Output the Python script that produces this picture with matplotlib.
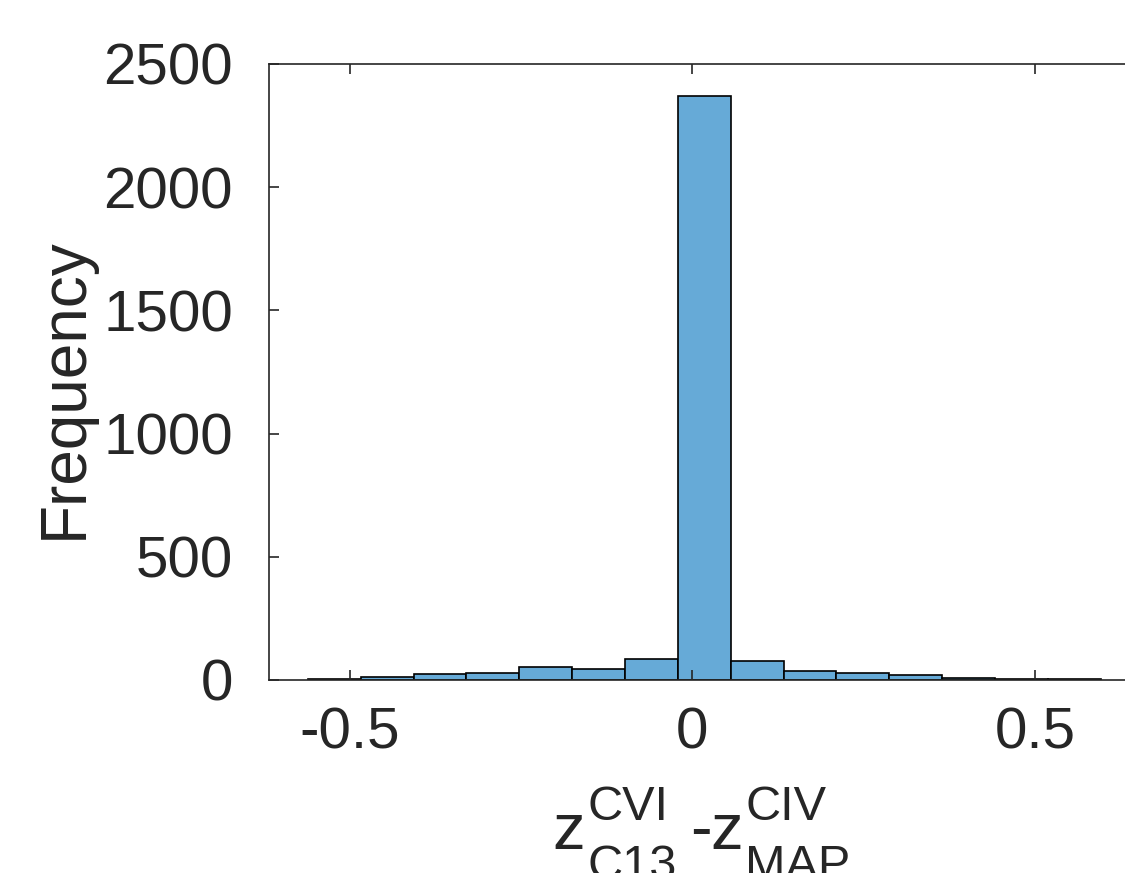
import numpy as np
import matplotlib
matplotlib.use("Agg")
import matplotlib.pyplot as plt

# ─── Dados ────────────────────────────────────────────────────────
BIN_EDGES = [-0.561, -0.484, -0.407, -0.330, -0.253, -0.176, -0.098, -0.021,
             0.056, 0.133, 0.210, 0.287, 0.364, 0.442, 0.519, 0.596]
COUNTS = [5, 11, 23, 28, 52, 43, 87, 2370, 76, 35, 27, 22, 7, 3, 3]
X_TICKS = [-0.5, 0, 0.5]
X_TICK_LABELS = ["-0.5", "0", "0.5"]
Y_TICKS = [0, 500, 1000, 1500, 2000, 2500]

# ─── Estilo ───────────────────────────────────────────────────────
AX_COLOR = "#262626"
FACE = "#66aad7"
W, H = 1125, 873

plt.rcParams["font.family"] = ["Liberation Sans", "DejaVu Sans"]

fig = plt.figure(figsize=(W / 100, H / 100), dpi=100)
ax = fig.add_axes([0.2391, 0.2211, 0.7783, 0.7056])

edges = np.array(BIN_EDGES)
ax.bar(edges[:-1], COUNTS, width=np.diff(edges), align="edge",
       color=FACE, edgecolor="black", linewidth=1.2)

ax.set_xlim(-0.618, 0.66)
ax.set_ylim(0, 2500)
ax.set_xticks(X_TICKS)
ax.set_xticklabels(X_TICK_LABELS)
ax.set_yticks(Y_TICKS)

for s in ax.spines.values():
    s.set_color(AX_COLOR)
    s.set_linewidth(1.2)

ax.tick_params(axis="x", direction="in", length=7, width=1.2, top=True,
               color=AX_COLOR, labelcolor=AX_COLOR, labelsize=42, pad=19)
ax.tick_params(axis="y", direction="in", length=7, width=1.2, right=True,
               color=AX_COLOR, labelcolor=AX_COLOR, labelsize=42, pad=26)

ax.set_ylabel("Frequency", fontsize=46, color=AX_COLOR)
ax.yaxis.set_label_coords((95 - 269) / 875.6, (680 - 388) / 616)

# rótulo x estilo TeX do MATLAB (sub/sobrescritos grandes)
def ftext(x, y, s, size):
    fig.text(x / W, (H - y) / H, s, fontsize=size, color=AX_COLOR,
             ha="left", va="baseline")

ftext(552, 849, "z", 47)
ftext(587, 820, "CVI", 35)
ftext(587, 879, "C13", 35)
ftext(690, 849, "-", 47)
ftext(710, 849, "z", 47)
ftext(745, 820, "CIV", 35)
ftext(745, 879, "MAP", 35)

plt.savefig("out.png", dpi=100)
plt.close()
